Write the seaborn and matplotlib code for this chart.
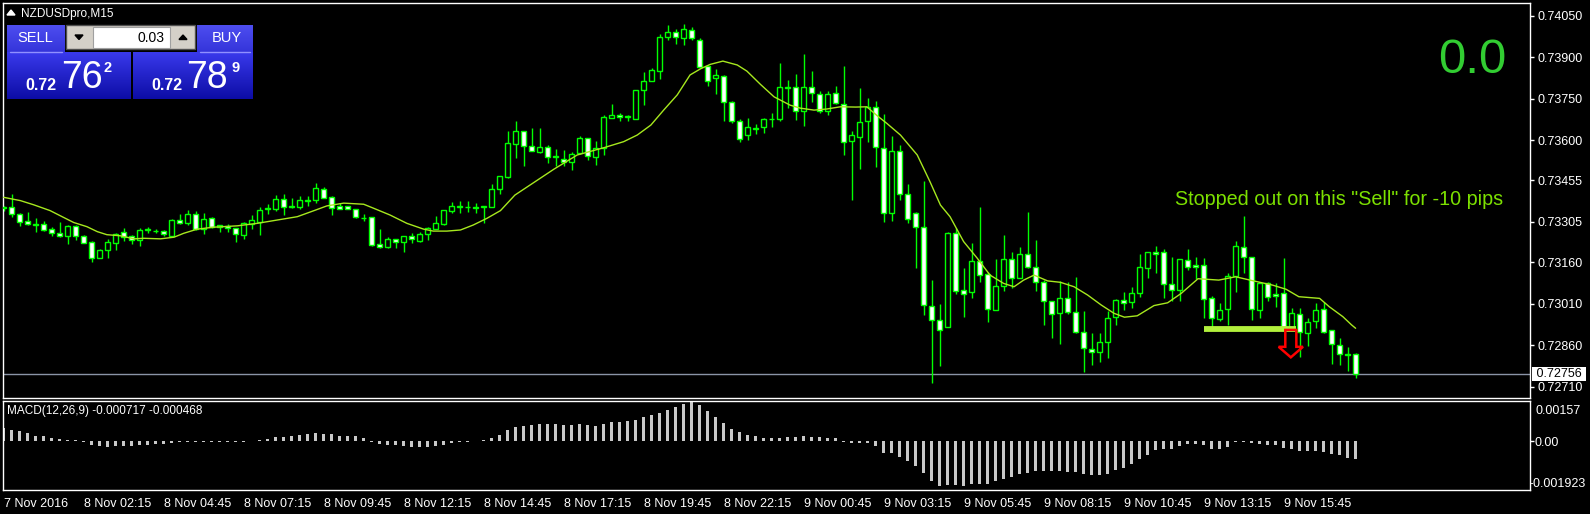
import numpy as np
import pandas as pd
import matplotlib
matplotlib.use("Agg")
import matplotlib.pyplot as plt
import seaborn as sns
from matplotlib.patches import Rectangle, Polygon

sns.set_theme(style="dark")
plt.rcParams['font.family'] = ['Liberation Sans', 'DejaVu Sans']

# ---------------- data (NZDUSD M15) ----------------
open_ = [0.73355,0.73358,0.73333,0.73308,0.73294,0.73297,0.73279,0.73265,0.73254,0.73290,
         0.73255,0.73233,0.73176,0.73203,0.73228,0.73268,0.73254,0.73239,0.73276,0.73272,
         0.73272,0.73256,0.73313,0.73303,0.73333,0.73279,0.73318,0.73286,0.73292,0.73282,
         0.73259,0.73298,0.73306,0.73352,0.73353,0.73387,0.73359,0.73360,0.73381,0.73385,
         0.73423,0.73394,0.73362,0.73362,0.73351,0.73318,0.73322,0.73224,0.73213,0.73243,
         0.73232,0.73255,0.73238,0.73261,0.73281,0.73299,0.73344,0.73358,0.73358,0.73356,
         0.73358,0.73358,0.73423,0.73469,0.73588,0.73633,0.73579,0.73559,0.73575,0.73539,
         0.73534,0.73521,0.73553,0.73608,0.73541,0.73573,0.73680,0.73692,0.73684,0.73678,
         0.73781,0.73813,0.73851,0.73972,0.73990,0.73968,0.73998,0.73963,0.73868,0.73824,
         0.73834,0.73738,0.73668,0.73618,0.73640,0.73649,0.73676,0.73677,0.73790,0.73792,
         0.73706,0.73792,0.73766,0.73704,0.73770,0.73730,0.73599,0.73613,0.73668,0.73722,
         0.73571,0.73339,0.73560,0.73405,0.73336,0.73286,0.73002,0.72950,0.72925,0.73264,
         0.73059,0.73051,0.73164,0.73117,0.72986,0.73072,0.73171,0.73101,0.73188,0.73144,
         0.73087,0.73019,0.72976,0.73030,0.72979,0.72906,0.72845,0.72834,0.72873,0.72961,
         0.73022,0.73017,0.73047,0.73140,0.73196,0.73198,0.73080,0.73059,0.73167,0.73149,
         0.73149,0.73030,0.72954,0.72990,0.73110,0.73216,0.73178,0.72987,0.73084,0.73046,
         0.73050,0.72927,0.72974,0.72903,0.72949,0.72990,0.72913,0.72860,0.72826,0.72827]
high = [0.73363,0.73406,0.73337,0.73341,0.73320,0.73309,0.73287,0.73305,0.73294,0.73294,
        0.73257,0.73238,0.73208,0.73243,0.73264,0.73282,0.73258,0.73282,0.73287,0.73281,
        0.73275,0.73316,0.73333,0.73347,0.73345,0.73339,0.73323,0.73293,0.73299,0.73282,
        0.73306,0.73330,0.73358,0.73371,0.73402,0.73406,0.73392,0.73399,0.73398,0.73445,
        0.73431,0.73398,0.73375,0.73363,0.73352,0.73332,0.73323,0.73280,0.73250,0.73243,
        0.73254,0.73266,0.73269,0.73286,0.73327,0.73348,0.73377,0.73381,0.73381,0.73374,
        0.73363,0.73442,0.73471,0.73635,0.73670,0.73633,0.73645,0.73645,0.73583,0.73567,
        0.73565,0.73559,0.73616,0.73608,0.73598,0.73692,0.73731,0.73698,0.73692,0.73781,
        0.73847,0.73860,0.73984,0.74017,0.74002,0.74021,0.74009,0.73970,0.73868,0.73858,
        0.73836,0.73742,0.73677,0.73680,0.73660,0.73682,0.73698,0.73878,0.73818,0.73840,
        0.73912,0.73851,0.73778,0.73778,0.73795,0.73868,0.73634,0.73788,0.73752,0.73742,
        0.73694,0.73616,0.73582,0.73442,0.73340,0.73453,0.73096,0.73008,0.73270,0.73282,
        0.73140,0.73229,0.73359,0.73126,0.73171,0.73258,0.73196,0.73213,0.73341,0.73240,
        0.73096,0.73019,0.73092,0.73088,0.73107,0.72983,0.72903,0.72903,0.72983,0.73027,
        0.73051,0.73071,0.73188,0.73196,0.73218,0.73207,0.73177,0.73170,0.73207,0.73180,
        0.73174,0.73036,0.73011,0.73119,0.73236,0.73327,0.73180,0.73089,0.73089,0.73084,
        0.73174,0.72993,0.72993,0.72957,0.73011,0.73017,0.72915,0.72885,0.72855,0.72831]
low = [0.73346,0.73324,0.73292,0.73294,0.73270,0.73274,0.73256,0.73252,0.73225,0.73240,
       0.73228,0.73162,0.73175,0.73176,0.73202,0.73236,0.73226,0.73219,0.73266,0.73264,
       0.73256,0.73255,0.73299,0.73293,0.73276,0.73261,0.73282,0.73270,0.73269,0.73233,
       0.73243,0.73281,0.73259,0.73333,0.73344,0.73330,0.73357,0.73351,0.73363,0.73375,
       0.73391,0.73331,0.73351,0.73350,0.73321,0.73310,0.73218,0.73211,0.73211,0.73211,
       0.73198,0.73230,0.73233,0.73240,0.73279,0.73294,0.73336,0.73336,0.73342,0.73339,
       0.73300,0.73358,0.73405,0.73465,0.73537,0.73508,0.73560,0.73553,0.73519,0.73508,
       0.73508,0.73492,0.73550,0.73529,0.73511,0.73547,0.73680,0.73668,0.73668,0.73678,
       0.73728,0.73813,0.73823,0.73963,0.73949,0.73944,0.73963,0.73865,0.73797,0.73769,
       0.73668,0.73661,0.73595,0.73601,0.73624,0.73628,0.73648,0.73670,0.73716,0.73675,
       0.73651,0.73740,0.73698,0.73692,0.73730,0.73547,0.73385,0.73495,0.73595,0.73505,
       0.73306,0.73309,0.73385,0.73303,0.73140,0.72969,0.72724,0.72783,0.72925,0.73044,
       0.72960,0.73032,0.73089,0.72945,0.72986,0.73056,0.73065,0.73101,0.73138,0.73056,
       0.72933,0.72885,0.72863,0.72972,0.72903,0.72764,0.72789,0.72800,0.72815,0.72933,
       0.72987,0.72993,0.73035,0.73101,0.73119,0.73030,0.73020,0.73020,0.73132,0.73100,
       0.72957,0.72918,0.72949,0.72933,0.73053,0.73122,0.72951,0.72957,0.73021,0.72997,
       0.72921,0.72915,0.72819,0.72857,0.72921,0.72903,0.72792,0.72789,0.72765,0.72741]
close = [0.73358,0.73333,0.73306,0.73297,0.73297,0.73275,0.73264,0.73254,0.73290,0.73256,
         0.73230,0.73173,0.73204,0.73233,0.73262,0.73250,0.73240,0.73275,0.73279,0.73274,
         0.73260,0.73312,0.73300,0.73334,0.73279,0.73315,0.73285,0.73293,0.73282,0.73261,
         0.73300,0.73311,0.73347,0.73355,0.73387,0.73358,0.73362,0.73385,0.73384,0.73427,
         0.73393,0.73355,0.73353,0.73351,0.73322,0.73321,0.73223,0.73213,0.73243,0.73234,
         0.73254,0.73243,0.73262,0.73282,0.73300,0.73348,0.73362,0.73362,0.73360,0.73358,
         0.73362,0.73424,0.73471,0.73589,0.73633,0.73579,0.73560,0.73575,0.73539,0.73544,
         0.73521,0.73550,0.73608,0.73543,0.73571,0.73683,0.73692,0.73683,0.73689,0.73781,
         0.73813,0.73853,0.73972,0.73990,0.73972,0.74002,0.73969,0.73866,0.73814,0.73836,
         0.73738,0.73669,0.73606,0.73647,0.73646,0.73676,0.73678,0.73792,0.73793,0.73706,
         0.73792,0.73770,0.73706,0.73766,0.73734,0.73595,0.73619,0.73665,0.73722,0.73575,
         0.73336,0.73560,0.73405,0.73315,0.73286,0.73004,0.72950,0.72914,0.73264,0.73055,
         0.73046,0.73164,0.73113,0.72990,0.73072,0.73171,0.73101,0.73188,0.73144,0.73087,
         0.73021,0.72972,0.73030,0.72978,0.72909,0.72849,0.72834,0.72870,0.72957,0.73022,
         0.73014,0.73047,0.73141,0.73196,0.73188,0.73080,0.73059,0.73170,0.73141,0.73141,
         0.73028,0.72957,0.72987,0.73110,0.73219,0.73180,0.72990,0.73084,0.73033,0.73037,
         0.72925,0.72975,0.72906,0.72945,0.72987,0.72909,0.72863,0.72827,0.72828,0.72756]

# moving average read at positions along the bar axis
ma_bar = [0, 2.1, 3.75, 5.8, 7.1, 8.75, 10.4, 11.7, 12.9, 14.6, 16.3, 17.5, 19.6, 21.3, 22.5,
          24.2, 26.2, 29.2, 31.7, 34.2, 36.7, 38.8, 40.4, 42.5, 45, 46.2, 48.3, 50.4, 52.5,
          53.7, 55.4, 57.1, 58.7, 60.4, 62.1, 63.9, 68.8, 71.7, 75, 77.5, 79.2, 80.9, 82.5,
          84.2, 85.8, 87.1, 88.3, 89.9, 91.7, 92.9, 94.6, 96.3, 98.3, 99.6, 101.3, 102.9,
          104.6, 106.5, 107.9, 109.1, 110.4, 112.1, 114.2, 115.8, 117.1, 118.3, 120, 121.7,
          123.3, 125, 126.3, 127.5, 128.8, 130.5, 132.1, 133.8, 135.5, 137.2, 138.8, 140.1,
          141.7, 143.8, 145.5, 147.2, 149.3, 151.9, 154, 156.1, 158.6, 160.3, 161.9, 164.5,
          165.7, 167.4, 168.5, 169]
ma_val = [0.73394,0.73382,0.73367,0.73346,0.73327,0.73303,0.73288,0.73270,0.73259,0.73255,
          0.73244,0.73246,0.73244,0.73250,0.73264,0.73279,0.73286,0.73291,0.73300,0.73312,
          0.73324,0.73346,0.73363,0.73373,0.73369,0.73355,0.73330,0.73300,0.73279,0.73272,
          0.73272,0.73276,0.73294,0.73318,0.73346,0.73402,0.73496,0.73547,0.73573,0.73595,
          0.73619,0.73655,0.73709,0.73764,0.73836,0.73858,0.73874,0.73886,0.73872,0.73850,
          0.73802,0.73757,0.73727,0.73716,0.73709,0.73713,0.73721,0.73720,0.73721,0.73691,
          0.73661,0.73619,0.73547,0.73450,0.73366,0.73324,0.73234,0.73174,0.73113,0.73083,
          0.73071,0.73095,0.73113,0.73092,0.73087,0.73071,0.73041,0.73005,0.72975,0.72961,
          0.72966,0.73003,0.73013,0.73047,0.73100,0.73095,0.73107,0.73093,0.73077,0.73062,
          0.73035,0.73029,0.72999,0.72963,0.72933,0.72921]

macd = [0.00051,0.00043,0.00039,0.00030,0.00021,0.00018,0.00012,0.00007,0.00004,0.00002,
        -0.00004,-0.00015,-0.00020,-0.00024,-0.00021,-0.00020,-0.00020,-0.00017,-0.00015,-0.00013,
        -0.00012,-0.00009,-0.00004,-0.00003,-0.00002,-0.00002,-0.00002,-0.00002,-0.00002,-0.00002,
        -0.00002,-0.00001,0.00004,0.00009,0.00017,0.00017,0.00018,0.00022,0.00028,0.00030,
        0.00029,0.00026,0.00021,0.00021,0.00018,0.00013,-0.00004,-0.00012,-0.00015,-0.00017,
        -0.00020,-0.00024,-0.00024,-0.00024,-0.00021,-0.00015,-0.00009,-0.00004,-0.00002,0.00001,
        0.00005,0.00013,0.00025,0.00042,0.00055,0.00059,0.00063,0.00068,0.00068,0.00066,
        0.00062,0.00062,0.00066,0.00063,0.00058,0.00068,0.00073,0.00076,0.00080,0.00084,
        0.00093,0.00102,0.00110,0.00122,0.00134,0.00145,0.00153,0.00141,0.00118,0.00094,
        0.00072,0.00048,0.00035,0.00025,0.00020,0.00012,0.00012,0.00013,0.00015,0.00016,
        0.00018,0.00017,0.00015,0.00013,0.00012,-0.00004,-0.00009,-0.00009,-0.00009,-0.00020,
        -0.00047,-0.00047,-0.00064,-0.00079,-0.00098,-0.00126,-0.00158,-0.00177,-0.00172,-0.00174,
        -0.00177,-0.00170,-0.00168,-0.00168,-0.00156,-0.00148,-0.00141,-0.00131,-0.00125,-0.00118,
        -0.00118,-0.00118,-0.00118,-0.00121,-0.00122,-0.00129,-0.00135,-0.00135,-0.00129,-0.00114,
        -0.00105,-0.00092,-0.00071,-0.00054,-0.00037,-0.00033,-0.00033,-0.00020,-0.00013,-0.00012,
        -0.00017,-0.00030,-0.00030,-0.00025,-0.00004,-0.00003,-0.00009,-0.00012,-0.00015,-0.00017,
        -0.00028,-0.00033,-0.00038,-0.00038,-0.00040,-0.00043,-0.00050,-0.00054,-0.00067,-0.00072]

price_ticks = [0.74050, 0.73900, 0.73750, 0.73600, 0.73455, 0.73305, 0.73160, 0.73010, 0.72860, 0.72710]
time_tick_bars = [0, 10, 20, 30, 40, 50, 60, 70, 80, 90, 100, 110, 120, 130, 140, 150, 160]
time_labels = ["7 Nov 2016", "8 Nov 02:15", "8 Nov 04:45", "8 Nov 07:15", "8 Nov 09:45",
               "8 Nov 12:15", "8 Nov 14:45", "8 Nov 17:15", "8 Nov 19:45", "8 Nov 22:15",
               "9 Nov 00:45", "9 Nov 03:15", "9 Nov 05:45", "9 Nov 08:15", "9 Nov 10:45",
               "9 Nov 13:15", "9 Nov 15:45"]
macd_main, macd_signal = -0.000717, -0.000468
macd_max, macd_min = 0.00157, -0.001923
stop_level, stop_from, stop_to = 0.72919, 150.0, 161.5
signal_bar, signal_top = 160.9, 0.72915

# ---------------- figure ----------------
W, H = 1590, 514
fig = plt.figure(figsize=(W / 100, H / 100), dpi=100)
fig.patch.set_facecolor('black')


def box(x0, y0, x1, y1):
    return [x0 / W, 1 - y1 / H, (x1 - x0) / W, (y1 - y0) / H]


GREEN = '#00FF00'
ax = fig.add_axes(box(2.5, 3, 1530, 398))
axm = fig.add_axes(box(2.5, 401, 1530, 490))
for a in (ax, axm):
    a.set_facecolor('black')
    a.grid(False)
    for s in a.spines.values():
        s.set_color('white')
        s.set_linewidth(1)

df = pd.DataFrame({'open': open_, 'high': high, 'low': low, 'close': close})
df['bar'] = np.arange(len(df))
bull = df['close'] >= df['open']
body_lo = np.minimum(df['open'], df['close'])
body_h = np.maximum(np.abs(df['close'] - df['open']), 0.000004)

ax.axhline(close[-1], color='#8A94A6', lw=1, zorder=1)
ax.vlines(df['bar'], df['low'], df['high'], color=GREEN, lw=1, zorder=2)
ax.bar(df['bar'], body_h, bottom=body_lo, width=0.62,
       color=np.where(bull, 'black', 'white'), edgecolor=GREEN, linewidth=1, zorder=3)
sns.lineplot(x=ma_bar, y=ma_val, ax=ax, color='#A6E81E', linewidth=1, zorder=4, legend=False)

# stop line and sell arrow
ax.hlines(stop_level, stop_from, stop_to, color='#B2F03C', lw=4.2, zorder=5)
head_base = signal_top - 0.00061
tip = signal_top - 0.00099
verts = [(signal_bar - 0.69, signal_top), (signal_bar + 0.69, signal_top),
         (signal_bar + 0.69, head_base), (signal_bar + 1.52, head_base),
         (signal_bar, tip), (signal_bar - 1.52, head_base), (signal_bar - 0.69, head_base)]
ax.add_patch(Polygon(verts, closed=True, fill=False, edgecolor='#FF0000', lw=1.8, zorder=6))

ax.set_xlim(-0.15, 190.8)
ax.set_ylim(0.726691, 0.740959)
ax.yaxis.tick_right()
ax.set_yticks(price_ticks)
ax.set_yticklabels([f'{v:.5f}' for v in price_ticks])
ax.tick_params(axis='y', colors='white', labelsize=9, length=3, width=1, pad=2.7, direction='out')
ax.tick_params(axis='x', bottom=False, labelbottom=False)
ax.set_xlabel('')
ax.set_ylabel('')

ax.annotate(f' {close[-1]:.5f} ', xy=(1.0, close[-1]), xycoords=('axes fraction', 'data'),
            xytext=(3, 0), textcoords='offset pixels', va='center', ha='left',
            fontsize=9, color='black', annotation_clip=False,
            bbox=dict(boxstyle='square,pad=0.05', fc='white', ec='none'))

# MACD histogram
axm.bar(df['bar'], macd, width=0.42, color='#C8C8C8', linewidth=0, zorder=2)
axm.set_xlim(-0.15, 190.8)
axm.set_ylim(macd_min, macd_max)
axm.yaxis.tick_right()
axm.set_yticks([0.0])
axm.set_yticklabels(['0.00'])
axm.tick_params(axis='y', colors='white', labelsize=9, length=3, width=1, pad=0.5, direction='out')
axm.set_xticks(time_tick_bars)
axm.set_xticklabels(time_labels, ha='left')
axm.tick_params(axis='x', colors='white', labelsize=9, length=4, width=1, pad=1.5, direction='out')

# ---------------- overlay (pixel coordinates) ----------------
ov = fig.add_axes([0, 0, 1, 1], zorder=20)
ov.axis('off')
ov.patch.set_alpha(0)


def grad_rect(x0, y0, x1, y1, c_top, c_bot):
    t = np.linspace(0, 1, 64)[:, None]
    col = (1 - t) * np.array(c_top) + t * np.array(c_bot)
    ov.imshow(col[:, None, :] / 255.0, extent=(x0, x1, y1, y0), aspect='auto',
              interpolation='bilinear', zorder=21)


ov.text(1536, 413.5, f'{macd_max:.5f}', color='white', fontsize=9, va='baseline', ha='left')
ov.text(1530, 487, f'{macd_min:.6f}', color='white', fontsize=9, va='baseline', ha='left')
ov.text(7, 414, f'MACD(12,26,9) {macd_main:.6f} {macd_signal:.6f}', color='white',
        fontsize=8.5, va='baseline', ha='left')

# symbol title
ov.add_patch(Polygon([(7, 15), (15, 15), (11, 10)], closed=True, color='white', zorder=22))
ov.text(21, 16.5, 'NZDUSDpro,M15', color='white', fontsize=8.5, va='baseline', ha='left')

# one-click trading panel
grad_rect(7, 25, 65, 52, (78, 78, 240), (52, 52, 218))
grad_rect(197, 25, 253, 52, (78, 78, 240), (52, 52, 218))
grad_rect(7, 52, 131, 99, (58, 58, 236), (12, 12, 165))
grad_rect(133, 52, 253, 99, (58, 58, 236), (12, 12, 165))
ov.plot([10, 62], [51.5, 51.5], color='#9090FF', lw=1, zorder=23)
ov.plot([200, 250], [51.5, 51.5], color='#9090FF', lw=1, zorder=23)
ov.add_patch(Rectangle((66, 25), 129, 24, fc='#D4D0C8', ec='#505050', lw=1, zorder=22))
ov.add_patch(Rectangle((93, 26.5), 77, 21, fc='white', ec='#A0A0A0', lw=0.8, zorder=23))
ov.add_patch(Polygon([(75, 35), (83, 35), (79, 39.5)], closed=True, color='black', zorder=24))
ov.add_patch(Polygon([(179, 39.5), (187, 39.5), (183, 35)], closed=True, color='black', zorder=24))
ov.text(165, 37.5, '0.03', color='black', fontsize=10, va='center', ha='right', zorder=25)
ov.text(35.5, 38.5, 'SELL', color='white', fontsize=10.5, va='center', ha='center', zorder=25)
ov.text(226.5, 38.5, 'BUY', color='white', fontsize=10.5, va='center', ha='center', zorder=25)
ov.text(25, 90, '0.72', color='white', fontsize=11.5, fontweight='bold', va='baseline', zorder=25)
ov.text(61, 87.5, '76', color='white', fontsize=27, va='baseline', zorder=25)
ov.text(104, 72, '2', color='white', fontsize=10.5, fontweight='bold', va='baseline', zorder=25)
ov.text(151, 90, '0.72', color='white', fontsize=11.5, fontweight='bold', va='baseline', zorder=25)
ov.text(186, 87.5, '78', color='white', fontsize=27, va='baseline', zorder=25)
ov.text(232, 72, '9', color='white', fontsize=10.5, fontweight='bold', va='baseline', zorder=25)

# on-chart labels
ov.text(1438, 73.3, '0.0', color='#32CD32', fontsize=35.5, va='baseline', ha='left', zorder=25)
ov.text(1175, 205, 'Stopped out on this "Sell" for -10 pips', color='#7CE000',
        fontsize=14.2, va='baseline', ha='left', zorder=25)

ov.set_xlim(0, W)
ov.set_ylim(H, 0)

fig.savefig('out.png', dpi=100, facecolor='black')
